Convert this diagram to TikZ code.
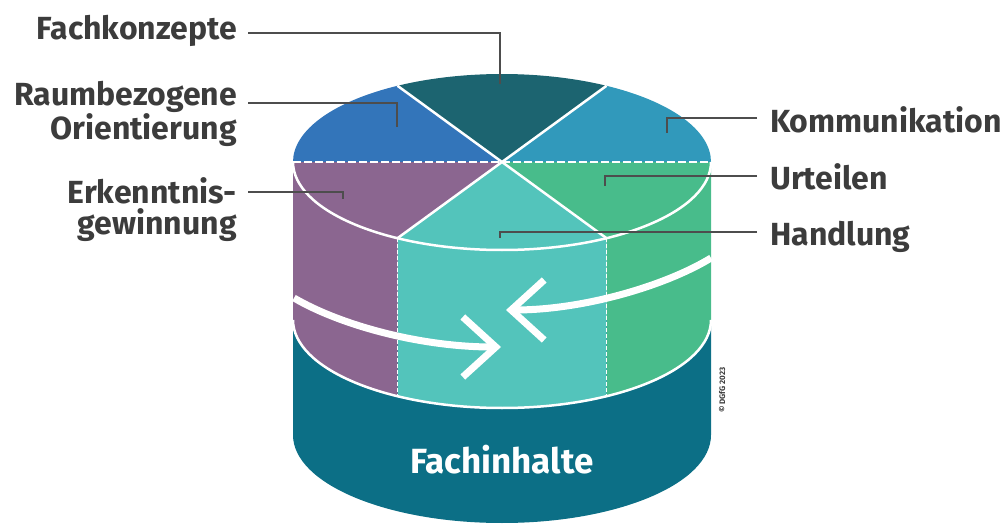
\documentclass[tikz,border=0pt]{standalone}
\usepackage{fontspec}
\setmainfont{Fira Sans}
\usetikzlibrary{arrows.meta, positioning}

\definecolor{konzept}{HTML}{1C6470}
\definecolor{raum}{HTML}{3375BA}
\definecolor{kommu}{HTML}{3199BB}
\definecolor{erkenntnis}{HTML}{8B6690}
\definecolor{handlung}{HTML}{53C4BB}
\definecolor{urteil}{HTML}{48BC8B}
\definecolor{inhalt}{HTML}{0C6F86}
\definecolor{labelgray}{HTML}{3C3C3C}
\definecolor{leadergray}{HTML}{4D4D4D}

\tikzset{
    lbl/.style={font=\fontsize{32}{32}\selectfont\bfseries, text=labelgray, inner sep=0pt},
    leader/.style={draw=leadergray, line width=2pt},
    rim/.style={draw=white, line width=2.5pt},
    seam/.style={draw=white, line width=2.5pt, dash pattern=on 8pt off 3pt},
    wallseam/.style={draw=white, line width=1.4pt, dash pattern=on 4pt off 2pt},
    ring/.style={draw=white, line width=7pt, -{Straight Barb[length=33pt, width=60pt]}},
}

\begin{document}
\begin{tikzpicture}[x=1pt, y=-1pt]
    \useasboundingbox (0,0) rectangle (1005,524);

    % centres of the three ellipses of the cylinder
    \coordinate (T) at (502,162);
    \coordinate (M) at (502,320);
    \coordinate (B) at (502,435);

    % base block
    \fill[inhalt] (293,320) -- (293,435) arc[start angle=180, end angle=0, x radius=209, y radius=88] -- (711,320) -- cycle;

    % coloured ring (front walls)
    \foreach \a/\b/\c in {0/60/urteil, 60/120/handlung, 120/180/erkenntnis}
        \fill[\c] ([shift={(T)}]\a:209 and 88) -- ([shift={(M)}]\a:209 and 88)
            arc[start angle=\a, end angle=\b, x radius=209, y radius=88]
            -- ([shift={(T)}]\b:209 and 88)
            arc[start angle=\b, end angle=\a, x radius=209, y radius=88] -- cycle;

    % top face, six sectors
    \foreach \a/\b/\c in {0/60/urteil, 60/120/handlung, 120/180/erkenntnis,
                          180/240/raum, 240/300/konzept, 300/360/kommu}
        \fill[\c] (T) -- ([shift={(T)}]\a:209 and 88)
            arc[start angle=\a, end angle=\b, x radius=209, y radius=88] -- cycle;

    % white edges
    \draw[rim] ([shift={(M)}]0:209 and 88) arc[start angle=0, end angle=180, x radius=209, y radius=88];
    \draw[rim] ([shift={(T)}]0:209 and 88) arc[start angle=0, end angle=180, x radius=209, y radius=88];
    \foreach \a in {60,120,240,300}
        \draw[rim] (T) -- ([shift={(T)}]\a:209 and 88);
    \draw[seam] ([shift={(T)}]180:209 and 88) -- ([shift={(T)}]0:209 and 88);
    \foreach \a in {60,120}
        \draw[wallseam] ([shift={(T)}]\a:209 and 88) -- ([shift={(M)}]\a:209 and 88);

    % circulating arrows
    \draw[ring] (294,298) .. controls (340,325) and (420,347) .. (501,347);
    \draw[ring] (711,258) .. controls (667,285) and (585,310) .. (506,310);

    \node[font=\fontsize{35}{35}\selectfont\bfseries, text=white] (fi) at (502,460) {Fachinhalte};
    \node[rotate=90, font=\fontsize{8}{8}\selectfont\bfseries, text=labelgray] (cr) at (722,390) {© DGfG 2023};

    % labels on the left (base anchor sits on the last line)
    \coordinate (fk-e) at (500,84);
    \coordinate (rb-e) at (397,127);
    \coordinate (eg-e) at (343,199);
    \node[lbl, anchor=base east] (fk) at (237,40) {Fachkonzepte};
    \node[lbl, anchor=base east, align=right] (rb) at (237,140) {Raumbezogene\\Orientierung};
    \node[lbl, anchor=base east, align=right] (eg) at (237,235) {Erkenntnis-\\gewinnung};
    \draw[leader] ([shift={(11,-7)}]fk.base east) -| (fk-e);
    \draw[leader] ([shift={(11,-37)}]rb.base east) -| (rb-e);
    \draw[leader] ([shift={(11,-43)}]eg.base east) -| (eg-e);

    % labels on the right
    \coordinate (km-e) at (667,133);
    \coordinate (ut-e) at (605,186);
    \coordinate (hd-e) at (500,238);
    \node[lbl, anchor=base west] (km) at (770,133) {Kommunikation};
    \node[lbl, anchor=base west] (ut) at (770,190) {Urteilen};
    \node[lbl, anchor=base west] (hd) at (770,245) {Handlung};
    \draw[leader] ([shift={(-13,-15)}]km.base west) -| (km-e);
    \draw[leader] ([shift={(-13,-14)}]ut.base west) -| (ut-e);
    \draw[leader] ([shift={(-13,-13)}]hd.base west) -| (hd-e);
\end{tikzpicture}
\end{document}
